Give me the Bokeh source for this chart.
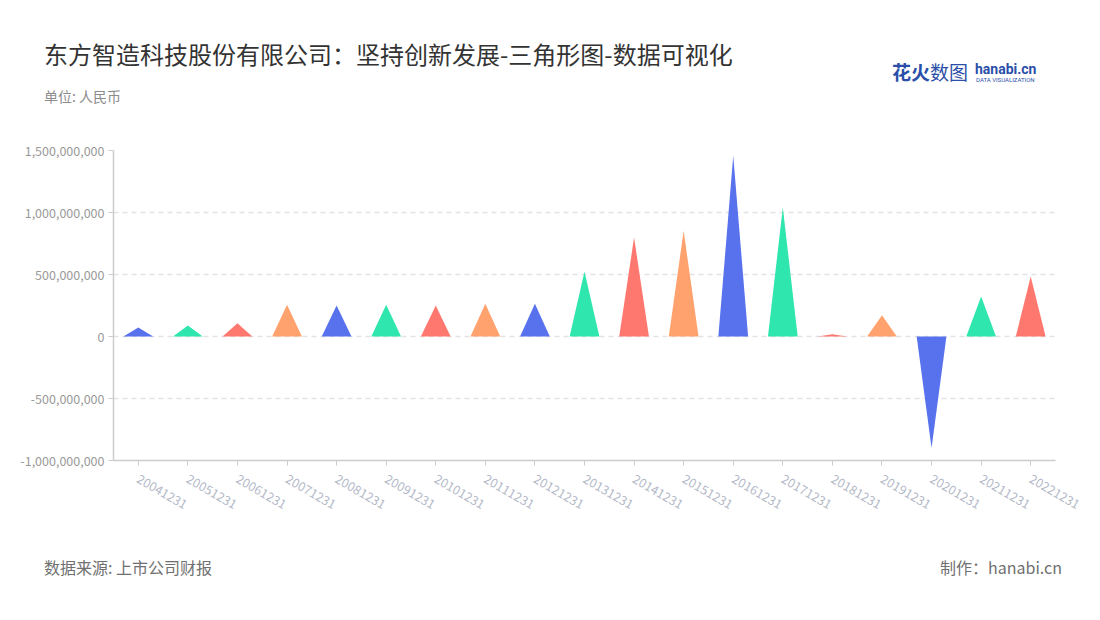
from bokeh.plotting import figure
from bokeh.models import Range1d, FixedTicker, NumeralTickFormatter, ColumnDataSource, Div
from bokeh.layouts import column
from bokeh.embed import file_html
from bokeh.resources import INLINE

categories = ["20041231", "20051231", "20061231", "20071231", "20081231", "20091231",
              "20101231", "20111231", "20121231", "20131231", "20141231", "20151231",
              "20161231", "20171231", "20181231", "20191231", "20201231", "20211231",
              "20221231"]
values = [72e6, 89e6, 107e6, 256e6, 250e6, 256e6, 250e6, 264e6, 264e6, 524e6,
          798e6, 852e6, 1457e6, 1040e6, 19e6, 172e6, -900e6, 323e6, 484e6]
palette = ["#5872EE", "#2EE6AE", "#FF7870", "#FFA26E"]
y_ticks = [-1e9, -5e8, 0, 5e8, 1e9, 1.5e9]

title_text = "东方智造科技股份有限公司：坚持创新发展-三角形图-数据可视化"
unit_text = "单位: 人民币"
source_text = "数据来源: 上市公司财报"
maker_text = "制作：hanabi.cn"

FONT = "Noto Sans CJK SC"
W = 1100
TOP_H = 140          # header div height
FIG_TOP = 10         # figure border above frame
FRAME_H = 310
FIG_BOTTOM = 80
FIG_H = FIG_TOP + FRAME_H + FIG_BOTTOM
FOOT_H = 60

p = figure(width=W, height=FIG_H, output_backend="svg", toolbar_location=None,
           x_range=Range1d(-0.5, len(categories) - 0.5),
           y_range=Range1d(-1e9, 1.5e9),
           min_border_left=113, min_border_right=45,
           min_border_top=FIG_TOP, min_border_bottom=FIG_BOTTOM)
p.outline_line_color = None
p.background_fill_color = "white"
p.border_fill_color = "white"
p.margin = 0

half = 0.3
xs, ys, colors = [], [], []
for i, v in enumerate(values):
    xs.append([i - half, i, i + half])
    ys.append([0, v, 0])
    colors.append(palette[i % len(palette)])
src = ColumnDataSource(dict(xs=xs, ys=ys, color=colors))
p.patches("xs", "ys", source=src, fill_color="color", line_color=None)

# axes
p.xaxis.ticker = FixedTicker(ticks=list(range(len(categories))))
p.xaxis.major_label_overrides = {i: c for i, c in enumerate(categories)}
p.xaxis.major_label_orientation = -0.5236
p.xaxis.axis_line_color = "#cccccc"
p.xaxis.axis_line_width = 1.5
p.xaxis.major_tick_line_color = "#cccccc"
p.xaxis.major_tick_in = 0
p.xaxis.major_tick_out = 5
p.xaxis.minor_tick_line_color = None
p.xaxis.major_label_text_color = "#b4b9c8"
p.xaxis.major_label_text_font = FONT
p.xaxis.major_label_text_font_size = "12.5px"
p.xaxis.major_label_standoff = 12

p.yaxis.ticker = FixedTicker(ticks=y_ticks)
p.yaxis.formatter = NumeralTickFormatter(format="0,0")
p.yaxis.axis_line_color = "#cccccc"
p.yaxis.axis_line_width = 1.5
p.yaxis.major_tick_line_color = "#cccccc"
p.yaxis.major_tick_in = 0
p.yaxis.major_tick_out = 5
p.yaxis.minor_tick_line_color = None
p.yaxis.major_label_text_color = "#999999"
p.yaxis.major_label_text_font = FONT
p.yaxis.major_label_text_font_size = "12.5px"
p.yaxis.major_label_standoff = 4

p.xgrid.grid_line_color = None
p.ygrid.ticker = FixedTicker(ticks=y_ticks)
p.ygrid.grid_line_color = "#e3e3e3"
p.ygrid.grid_line_dash = "5 4"
p.ygrid.grid_line_width = 1.5

span = "position:absolute;white-space:nowrap;font-family:'{f}';".format(f=FONT)
header_html = (
    f"<div style=\"position:relative;width:{W}px;height:{TOP_H}px;\">"
    f"<span style=\"{span}left:44px;top:38px;font-size:24px;line-height:32px;color:#333333;\">{title_text}</span>"
    f"<span style=\"{span}left:44px;top:86px;font-size:14px;line-height:20px;color:#8c8c8c;\">{unit_text}</span>"
    f"<span style=\"{span}left:892px;top:60px;font-size:19px;line-height:24px;color:#2b4fa8;\"><b>花火</b>数图</span>"
    f"<span style=\"{span}left:975px;top:60px;font-size:14px;line-height:18px;font-weight:bold;color:#2b4fa8;font-family:'Roboto';\">hanabi.cn</span>"
    f"<span style=\"{span}left:976px;top:76px;font-size:6px;line-height:7px;color:#2b4fa8;font-family:'Roboto';\">DATA VISUALIZATION</span>"
    "</div>"
)
footer_html = (
    f"<div style=\"position:relative;width:{W}px;height:{FOOT_H}px;\">"
    f"<span style=\"{span}left:44px;top:16px;font-size:16px;line-height:22px;color:#707070;\">{source_text}</span>"
    f"<span style=\"{span}right:38px;top:16px;font-size:16px;line-height:22px;color:#707070;\">{maker_text}</span>"
    "</div>"
)
header = Div(text=header_html, width=W, height=TOP_H, margin=0)
footer = Div(text=footer_html, width=W, height=FOOT_H, margin=0)

layout = column(header, p, footer, spacing=0, margin=0)
open("out.html", "w").write(file_html(layout, INLINE))
